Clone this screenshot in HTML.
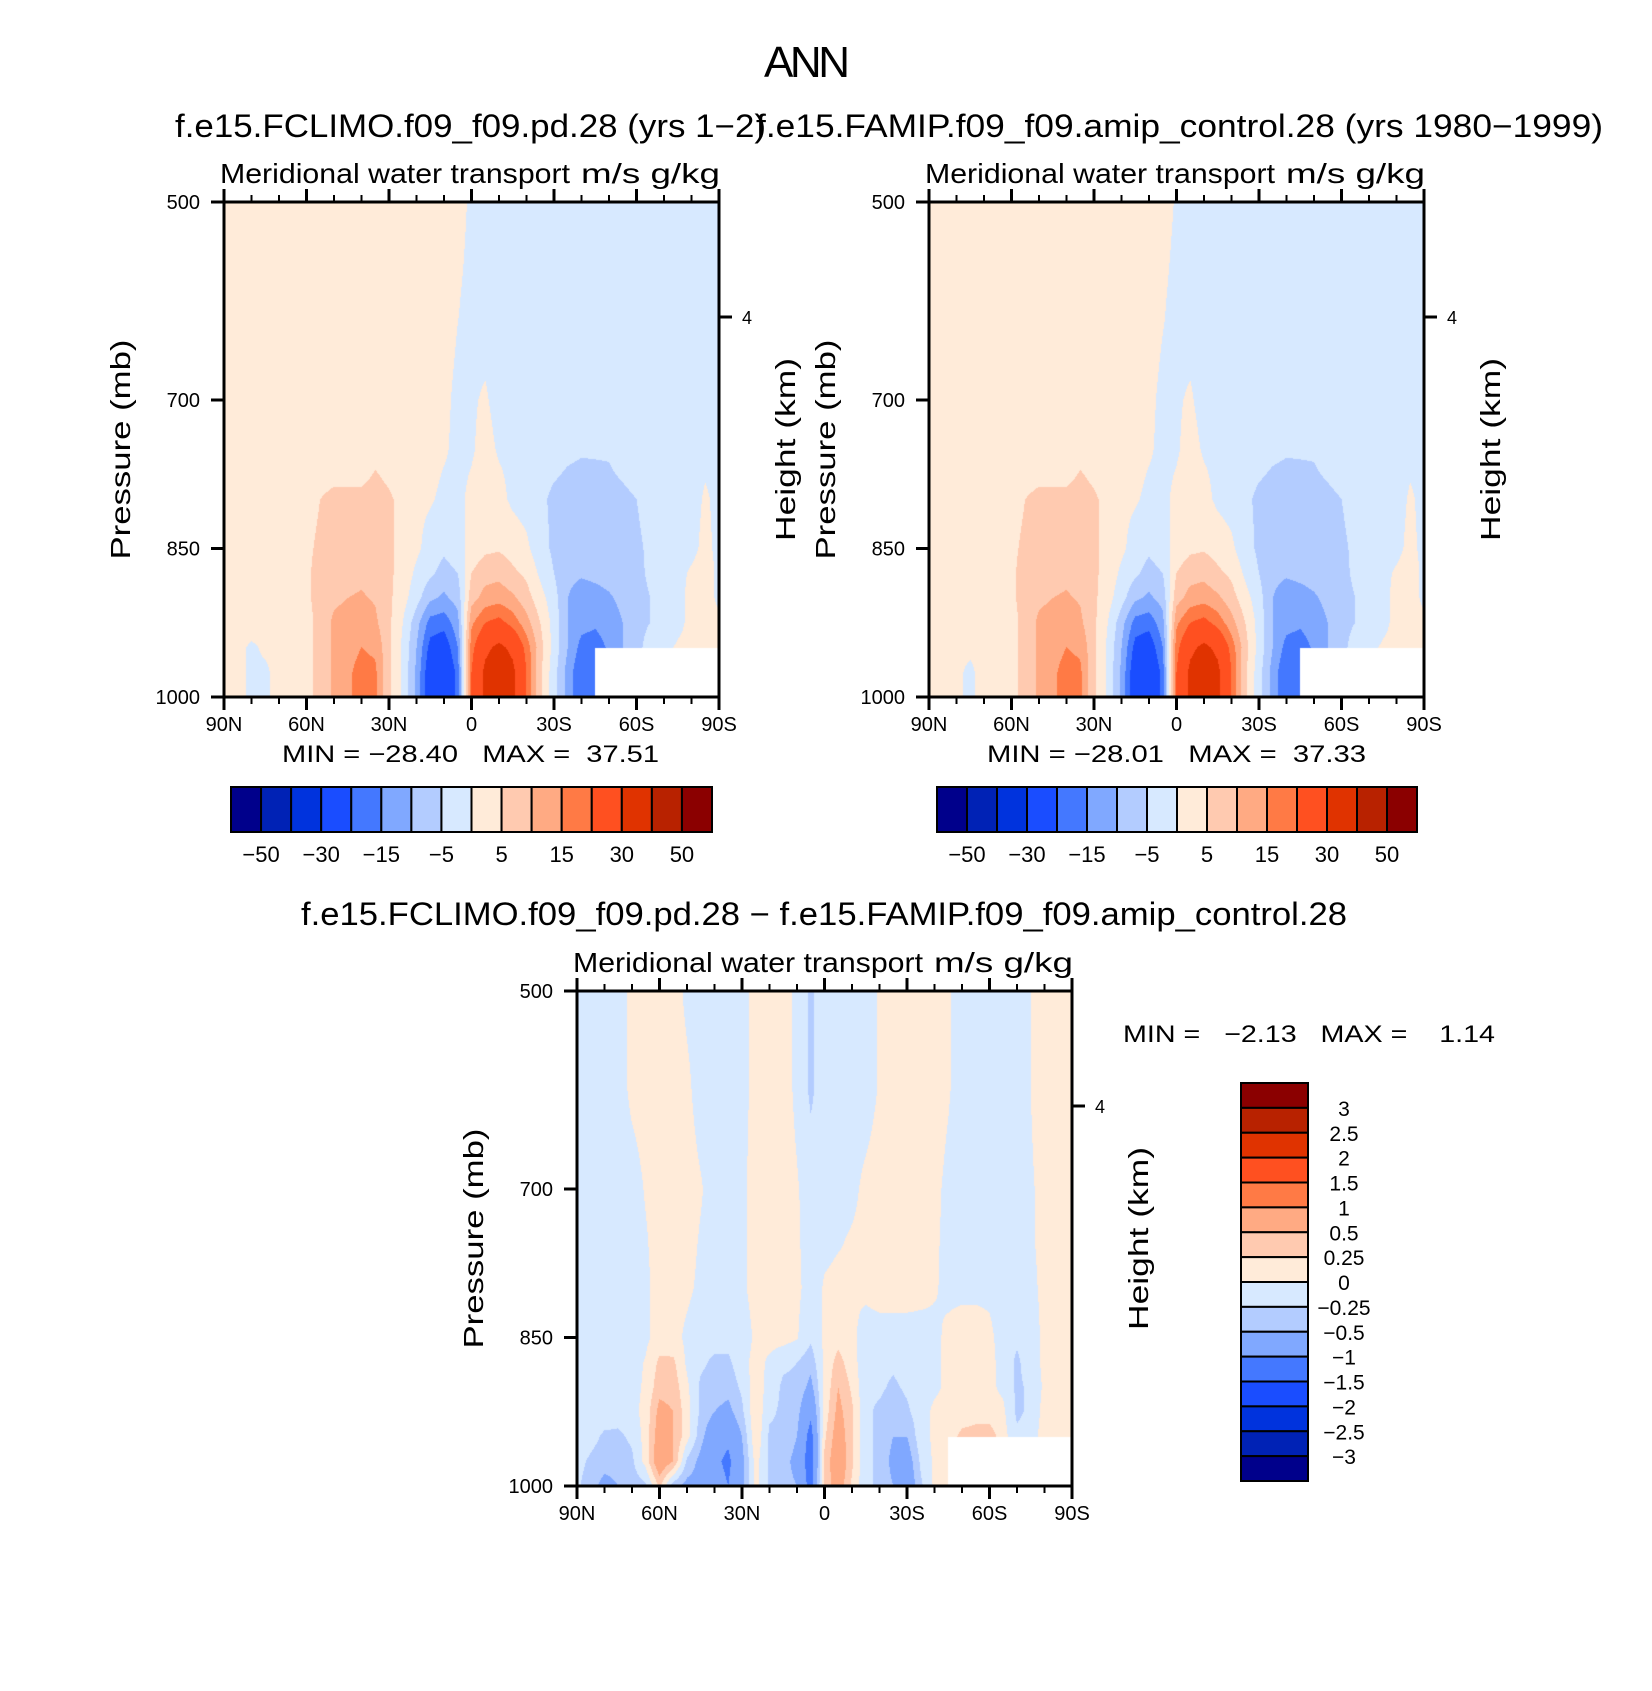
<!DOCTYPE html>
<html><head><meta charset="utf-8">
<style>
html,body{margin:0;padding:0;background:#fff;}
#wrap{position:relative;width:1652px;height:1691px;overflow:hidden;background:#fff;}
canvas{position:absolute;}
svg{position:absolute;left:0;top:0;}
text{font-family:"Liberation Sans",sans-serif;fill:#000;}
</style></head>
<body>
<div id="wrap">
<canvas id="c1" width="495" height="495" style="left:224px;top:202px"></canvas>
<canvas id="c2" width="495" height="495" style="left:929px;top:202px"></canvas>
<canvas id="c3" width="495" height="495" style="left:577px;top:991px"></canvas>
<svg id="ov" width="1652" height="1691" xmlns="http://www.w3.org/2000/svg">
<text x="807" y="77" font-size="44" text-anchor="middle" textLength="86">ANN</text>
<text x="175" y="137" font-size="32" textLength="591" lengthAdjust="spacingAndGlyphs">f.e15.FCLIMO.f09_f09.pd.28 (yrs 1−2)</text>
<text x="756" y="137" font-size="32" textLength="847" lengthAdjust="spacingAndGlyphs">f.e15.FAMIP.f09_f09.amip_control.28 (yrs 1980−1999)</text>
<text x="301" y="925" font-size="32" textLength="1046" lengthAdjust="spacingAndGlyphs">f.e15.FCLIMO.f09_f09.pd.28 − f.e15.FAMIP.f09_f09.amip_control.28</text>
<text x="282" y="762" font-size="24" textLength="377" lengthAdjust="spacingAndGlyphs" xml:space="preserve">MIN = −28.40   MAX =  37.51</text>
<text x="987" y="762" font-size="24" textLength="379" lengthAdjust="spacingAndGlyphs" xml:space="preserve">MIN = −28.01   MAX =  37.33</text>
<text x="1123" y="1042" font-size="24" textLength="372" lengthAdjust="spacingAndGlyphs" xml:space="preserve">MIN =   −2.13   MAX =    1.14</text>
<g id="axes"></g>
</svg>
</div>
<script>
// ---- data ----
const LATS = [90,85,80,75,70,65,60,55,50,45,40,35,30,25,20,15,10,5,0,-5,-10,-15,-20,-25,-30,-35,-40,-45,-50,-55,-60,-65,-70,-75,-80,-85,-90];
const LEVS = [500,600,700,750,800,850,875,900,925,950,975,1000];
const N = NaN;
const FIELD_CLIMO = [
[2,2,2,2,2,2,2,2,2,2,2,2,2,2,2,2,2,2,-1,-2,-2,-2,-2,-2,-2,-2,-2,-2,-2,-2,-2,-2,-2,-2,-2,-2,-2],
[2,2,2,2,2,2,2,2,2,2,2,2,2,2,2,2,2,0.3,-1.5,-2,-2,-2,-2,-2,-2,-2,-2,-2,-2,-2,-2,-2,-2,-2,-2,-2,-2],
[2,2,2,2,2,2,2,2,2,2,2,2,2,2,2,2,1,-1,-0.5,0.5,-1.5,-1.5,-1.5,-1.5,-1.5,-1.5,-1.5,-1.5,-1.5,-1.5,-1.5,-1.5,-1.5,-1.5,-1.5,-1,-1],
[2,2,2,2,2,2,2,2,2,2,2,4,3,2,2,1.5,0.5,-1,-0.5,1.5,-0.5,-1,-2,-2.5,-3,-4,-4.5,-4.5,-4.5,-3,-2,-1.5,-1.5,-1.5,-1.5,-1,-1],
[1.5,1.5,1.5,1.5,1.5,1.5,3,5,6,6,6,6.5,5.5,4,1,0.5,-1,-1,1,2.5,1.5,-1,-2,-4,-6,-7,-7.5,-7,-6.5,-6,-5,-3,-2,-1.5,-1.5,0.5,-1],
[1.5,1.5,1.5,1.5,1.5,2,4,6,7,7,7,7,6,3,1,-2,-4,-2,2,4,4.5,3,1,-3,-6,-8,-8,-8,-8,-7,-6,-4,-2,-1.5,-1,1,-1],
[1.5,1.5,1.5,1.5,1.5,2,4,7,8,8.5,9,8,6,3,-1,-4,-7,-5,5,8,8.5,6,4,-1,-5,-9,-9.5,-9,-8.5,-8,-6.5,-4,-2,-1,0.5,2,-1],
[1.5,1.5,1.5,1.5,1.5,2,4,7,9,10,10.5,9.5,6,2,-3,-9,-11,-8,8,12,13,11,7,2,-3,-10,-12,-11.5,-10.5,-9,-7,-5,-3,-1,1,2,-1],
[1.5,1.5,1.5,1,1,2,3,7,11,12,13,11,6,0,-8,-17,-18,-12,14,20,22,18,12,5,-2,-10,-13,-14,-12,-10,-8,-5,-3,-1,1,2,1],
[1,0.8,-0.5,0.5,0.5,1,3,7,11,13,15,14,6,-1,-10,-22,-24,-15,18,28,32,28,18,7,-2,-10,-17,-18,-14,-10,-8,-1,-1,0.5,1,1,1],
[1,0.8,-0.5,-0.5,1,1,3,7,11,14,17,16,6,-1,-11,-25,-28,-18,20,32,36,32,20,6,-3,-12,-20,-19,N,N,N,N,N,N,N,N,N],
[1,0.8,-0.5,-0.5,1,1,3,7,11,14,17,16,6,-1,-11,-25,-28,-18,20,32,36,32,20,6,-3,-12,-20,-19,N,N,N,N,N,N,N,N,N]
];
const FIELD_AMIP = [
[2,2,2,2,2,2,2,2,2,2,2,2,2,2,2,2,2,2,-0.5,-2,-2,-2,-2,-2,-2,-2,-2,-2,-2,-2,-2,-2,-2,-2,-2,-2,-2],
[2,2,2,2,2,2,2,2,2,2,2,2,2,2,2,2,2,0.5,-1.5,-2,-2,-2,-2,-2,-2,-2,-2,-2,-2,-2,-2,-2,-2,-2,-2,-2,-2],
[2,2,2,2,2,2,2,2,2,2,2,2,2,2,2,2,1,-1,-0.5,0.5,-1.5,-1.5,-1.5,-1.5,-1.5,-1.5,-1.5,-1.5,-1.5,-1.5,-1.5,-1.5,-1.5,-1.5,-1.5,-1,-1],
[2,2,2,2,2,2,2,2,2,2,2,4,3,2,2,1.5,0.5,-1,-0.5,1.5,-0.5,-1,-2,-2.5,-3,-4,-4.5,-4.5,-4.5,-3,-2,-1.5,-1.5,-1.5,-1.5,-1,-1],
[1.5,1.5,1.5,1.5,1.5,1.5,3,5,6,6,6,6.5,5.5,4,1,0.5,-1,-1,1,2.5,1.5,-1,-2,-4,-6,-7,-7.5,-7,-6.5,-6,-5,-3,-2,-1.5,-1.5,0.5,-1],
[1.5,1.5,1.5,1.5,1.5,2,4,6,7,7,7,7,6,3,1,-2,-4,-2,2,4,4.5,3,1,-3,-6,-8,-8,-8,-8,-7,-6,-4,-2,-1.5,-1,1,-1],
[1.5,1.5,1.5,1.5,1.5,2,4,7,8,8.5,9,8,6,3,-1,-4,-7,-5,5,8,8.5,6,4,-1,-5,-9,-9.5,-9,-8.5,-8,-6.5,-4,-2,-1,0.5,2,-1],
[1.5,1.5,1.5,1.5,1.5,2,4,7,9,10,10.5,9.5,6,2,-3,-9,-11,-8,8,12,13,11,7,2,-3,-10,-12,-11.5,-10.5,-9,-7,-5,-3,-1,1,2,-1],
[1.5,1.5,1.5,1,1,2,3,7,11,12,13,11,6,0,-8,-17,-18,-12,14,20,22,18,12,5,-2,-10,-13,-14,-12,-10,-8,-5,-3,-1,1,2,1],
[1,1,0.5,0.5,0.5,1,3,7,11,13,15,14,6,-1,-10,-22,-24,-15,18,28,32,28,18,7,-2,-10,-17,-18,-14,-10,-8,-1,-1,0.5,1,1,1],
[1,1,0.5,-0.5,1,1,3,7,11,14,17,16,6,-1,-11,-25,-28,-18,20,32,36,32,20,6,-3,-12,-20,-19,N,N,N,N,N,N,N,N,N],
[1,1,0.5,-0.5,1,1,3,7,11,14,17,16,6,-1,-11,-25,-28,-18,20,32,36,32,20,6,-3,-12,-20,-19,N,N,N,N,N,N,N,N,N]
];
const FIELD_DIFF = [
[-0.1,-0.1,-0.1,-0.1,0.05,0.1,0.1,0.1,-0.05,-0.1,-0.1,-0.1,-0.1,0.1,0.1,0.1,-0.05,-0.3,-0.1,-0.1,-0.1,-0.1,0.02,0.1,0.1,0.1,0.1,0.02,-0.1,-0.1,-0.1,-0.1,-0.1,0,0.1,0.1,0.1],
[-0.1,-0.1,-0.1,-0.1,0.05,0.1,0.1,0.12,0.05,-0.1,-0.1,-0.1,-0.1,0.1,0.1,0.1,-0.05,-0.3,-0.1,-0.1,-0.1,-0.1,0.02,0.1,0.1,0.1,0.1,0.02,-0.1,-0.1,-0.1,-0.1,-0.1,0,0.1,0.1,0.1],
[-0.1,-0.1,-0.1,-0.1,-0.1,0.02,0.1,0.12,0.1,0.02,-0.1,-0.1,-0.05,0.1,0.1,0.1,0.02,-0.1,-0.1,-0.1,-0.05,0.05,0.1,0.1,0.1,0.1,0.05,-0.05,-0.1,-0.1,-0.1,-0.1,-0.1,-0.02,0.05,0.1,0.1],
[-0.1,-0.1,-0.1,-0.1,-0.1,-0.02,0.1,0.12,0.08,-0.02,-0.1,-0.1,-0.05,0.1,0.1,0.1,0.03,-0.1,-0.05,-0.02,0.02,0.05,0.1,0.1,0.1,0.08,0.03,-0.05,-0.1,-0.1,-0.1,-0.1,-0.1,-0.02,0.05,0.1,0.1],
[-0.1,-0.1,-0.1,-0.1,-0.1,-0.05,0.1,0.1,0.05,-0.05,-0.1,-0.1,-0.05,0.1,0.1,0.1,0.05,-0.1,0.02,0.05,0.02,0.05,0.1,0.1,0.1,0.08,0.02,-0.05,-0.05,-0.05,-0.05,-0.1,-0.1,-0.05,0.05,0.1,0.1],
[-0.1,-0.1,-0.1,-0.1,-0.1,-0.05,0.1,0.08,-0.05,-0.15,-0.15,-0.15,-0.15,0.05,0.1,0.1,0.02,-0.2,0.05,0.15,0.05,-0.1,-0.1,-0.1,-0.1,-0.1,-0.05,0.05,0.1,0.1,0.05,-0.1,-0.2,-0.1,0.05,0.1,0.1],
[-0.1,-0.1,-0.1,-0.1,-0.1,0.02,0.3,0.3,-0.05,-0.2,-0.3,-0.3,-0.1,0.1,-0.05,-0.2,-0.25,-0.4,0.05,0.35,0.1,-0.15,-0.15,-0.2,-0.1,-0.1,-0.05,0.05,0.1,0.1,0.08,-0.1,-0.3,-0.1,0.05,0.1,0.1],
[-0.1,-0.1,-0.1,-0.1,-0.1,0.05,0.4,0.4,0.05,-0.3,-0.35,-0.4,-0.2,0.15,-0.1,-0.3,-0.3,-0.6,0.05,0.5,0.2,-0.2,-0.2,-0.3,-0.2,-0.1,-0.05,0.05,0.15,0.1,0.05,-0.05,-0.3,-0.2,0.05,0.1,0.1],
[-0.1,-0.1,-0.1,-0.15,-0.1,0.1,0.6,0.5,0.1,-0.3,-0.5,-0.6,-0.3,0.2,-0.2,-0.3,-0.4,-0.9,0.1,0.6,0.3,-0.2,-0.3,-0.4,-0.3,-0.1,0.05,0.1,0.15,0.2,0.1,0.05,-0.3,-0.2,0.1,0.1,0.1],
[-0.1,-0.15,-0.3,-0.3,-0.2,0.1,0.7,0.5,0.1,-0.4,-0.8,-0.9,-0.5,0.2,-0.3,-0.3,-0.5,-1.2,0.2,0.7,0.3,-0.2,-0.3,-0.5,-0.5,-0.1,0.05,0.15,0.3,0.3,0.4,0.1,-0.2,-0.1,0.1,0.1,0.1],
[-0.15,-0.3,-0.4,-0.4,-0.3,0.1,0.8,0.5,-0.3,-0.6,-0.9,-1.1,-0.6,0.1,-0.3,-0.4,-0.6,-1.3,0.3,0.8,0.3,-0.2,-0.3,-0.6,-0.7,-0.2,0.05,0.1,N,N,N,N,N,N,N,N,N],
[-0.2,-0.4,-0.6,-0.5,-0.4,-0.3,0.3,-0.4,-0.6,-0.6,-0.8,-1.0,-0.6,0.1,-0.3,-0.4,-0.5,-1.2,0.3,0.7,0.2,-0.2,-0.3,-0.5,-0.8,-0.3,0.05,0.1,N,N,N,N,N,N,N,N,N]
];
const LEVELS_FULL = [-50,-40,-30,-20,-15,-10,-5,0,5,10,15,20,30,40,50];
const LABELS_FULL = ["−50","−30","−15","−5","5","15","30","50"];
const LEVELS_DIFF = [-3,-2.5,-2,-1.5,-1,-0.5,-0.25,0,0.25,0.5,1,1.5,2,2.5,3];
const LABELS_DIFF = ["3","2.5","2","1.5","1","0.5","0.25","0","−0.25","−0.5","−1","−1.5","−2","−2.5","−3"];
const LAT_TICKS = [90,60,30,0,-30,-60,-90];
const LAT_TICK_LABELS = ["90N","60N","30N","0","30S","60S","90S"];
const P_TICKS = [500,700,850,1000];
const PALETTE = ["#00008b","#0022b5","#0033dd","#1a4dff","#4478ff","#80a8ff","#b3ccff","#d7e9ff","#ffebd9","#ffcab0","#ffaa83","#ff7a45","#ff5020","#e03300","#b82200","#8b0000"];

// ---- rendering ----
function hex(c){return [parseInt(c.slice(1,3),16),parseInt(c.slice(3,5),16),parseInt(c.slice(5,7),16)];}
const PAL_RGB = PALETTE.map(hex);
function classify(v,levels){let k=0;for(const l of levels){if(v>=l)k++;}return k;}
function bracket(arr,v,desc){
  for(let i=0;i<arr.length-1;i++){
    const a=arr[i],b=arr[i+1];
    if(desc? (v<=a&&v>=b):(v>=a&&v<=b)) return [i,(v-a)/(b-a)];
  }
  return [arr.length-2,1];
}
function drawField(cv,field,levels){
  const ctx=cv.getContext('2d');const W=cv.width,H=cv.height;
  const img=ctx.createImageData(W,H);
  for(let y=0;y<H;y++){
    const p=500+(y+0.5)/H*500;
    const [j,ty]=bracket(LEVS,p,false);
    for(let x=0;x<W;x++){
      const lat=90-(x+0.5)/W*180;
      const [i,tx]=bracket(LATS,lat,true);
      const a=field[j][i],b=field[j][i+1],c=field[j+1][i],d=field[j+1][i+1];
      const o=(y*W+x)*4;
      if(isNaN(a)||isNaN(b)||isNaN(c)||isNaN(d)){img.data[o]=255;img.data[o+1]=255;img.data[o+2]=255;img.data[o+3]=255;continue;}
      const v=(a*(1-tx)+b*tx)*(1-ty)+(c*(1-tx)+d*tx)*ty;
      const col=PAL_RGB[classify(v,levels)];
      img.data[o]=col[0];img.data[o+1]=col[1];img.data[o+2]=col[2];img.data[o+3]=255;
    }
  }
  ctx.putImageData(img,0,0);
}
drawField(document.getElementById('c1'),FIELD_CLIMO,LEVELS_FULL);
drawField(document.getElementById('c2'),FIELD_AMIP,LEVELS_FULL);
drawField(document.getElementById('c3'),FIELD_DIFF,LEVELS_DIFF);

const NS="http://www.w3.org/2000/svg";
const G=document.getElementById('axes');
function el(tag,attrs,parent){const e=document.createElementNS(NS,tag);for(const k in attrs)e.setAttribute(k,attrs[k]);(parent||G).appendChild(e);return e;}

function drawAxes(px,py,S,tag){
  const g=el('g',{});
  
  
  const xs=lat=>px+(90-lat)/180*S;
  const ys=p=>py+(p-500)/500*S;
  const fr=el('rect',{x:px,y:py,width:S,height:S,fill:'none',stroke:'#000','stroke-width':3},g);
  
  
  for(let lat=90;lat>=-90;lat-=10){
    const major=(lat%30===0);const L=major?13:7;const x=xs(lat);
    el('line',{x1:x,x2:x,y1:py,y2:py-L,stroke:'#000','stroke-width':major?3:2},g);
    el('line',{x1:x,x2:x,y1:py+S,y2:py+S+L,stroke:'#000','stroke-width':major?3:2},g);
  }
  LAT_TICKS.forEach((lat,k)=>{
    const t=el('text',{x:xs(lat),y:py+S+34,'font-size':20,'text-anchor':'middle'},g);
    t.textContent=LAT_TICK_LABELS[k];
    
    
  });
  P_TICKS.forEach(p=>{
    const y=ys(p);
    el('line',{x1:px-13,x2:px,y1:y,y2:y,stroke:'#000','stroke-width':3},g);
    const t=el('text',{x:px-24,y:y+7,'font-size':20,'text-anchor':'end'},g);
    t.textContent=String(p);
    
    
  });
  const hy=py+115;
  el('line',{x1:px+S,x2:px+S+13,y1:hy,y2:hy,stroke:'#000','stroke-width':3},g);
  const h4=el('text',{x:px+S+23,y:hy+7,'font-size':18},g);h4.textContent='4';
  
  
  const t1=el('text',{x:px-4,y:py-19,'font-size':28,textLength:350,lengthAdjust:'spacingAndGlyphs'},g);
  t1.textContent='Meridional water transport';
  
  
  const t2=el('text',{x:px+S+1,y:py-19,'font-size':28,'text-anchor':'end',textLength:139,lengthAdjust:'spacingAndGlyphs'},g);
  t2.textContent='m/s g/kg';
  
  
  const cy=py+S/2;
  const yt=el('text',{x:0,y:0,'font-size':28,'text-anchor':'middle',textLength:220,lengthAdjust:'spacingAndGlyphs',transform:`translate(${px-94},${cy}) rotate(-90)`},g);
  yt.textContent='Pressure (mb)';
  
  
  const ht=el('text',{x:0,y:0,'font-size':28,'text-anchor':'middle',textLength:183,lengthAdjust:'spacingAndGlyphs',transform:`translate(${px+S+76},${cy}) rotate(-90)`},g);
  ht.textContent='Height (km)';
  
  
}
drawAxes(224,202,495,'panel1');
drawAxes(929,202,495,'panel2');
drawAxes(577,991,495,'diff-panel');

function hBar(x0,y0,w,h,labels,tag){
  const g=el('g',{});
  
  
  const bw=w/PALETTE.length;
  PALETTE.forEach((c,k)=>{
    const r=el('rect',{x:x0+k*bw,y:y0,width:bw,height:h,fill:c,stroke:'#000','stroke-width':2},g);
    
    
  });
  labels.forEach((s,k)=>{
    const t=el('text',{x:x0+(2*k+1)*bw,y:y0+h+30,'font-size':22,'text-anchor':'middle'},g);
    t.textContent=s;
    
    
  });
}
hBar(231,787,481,45,LABELS_FULL,'panel1-colorbar');
hBar(937,787,480,45,LABELS_FULL,'panel2-colorbar');

function vBar(x0,y0,w,h,labels,tag){
  const g=el('g',{});
  
  
  const n=PALETTE.length,bh=h/n;
  for(let k=0;k<n;k++){
    const r=el('rect',{x:x0,y:y0+k*bh,width:w,height:bh,fill:PALETTE[n-1-k],stroke:'#000','stroke-width':2},g);
    
    
  }
  labels.forEach((s,k)=>{
    const t=el('text',{x:x0+103,y:y0+(k+1)*bh+8,'font-size':21,'text-anchor':'middle'},g);
    t.textContent=s;
    
    
  });
}
vBar(1241,1083,67,398,LABELS_DIFF,'diff-colorbar');
</script>
</body></html>
